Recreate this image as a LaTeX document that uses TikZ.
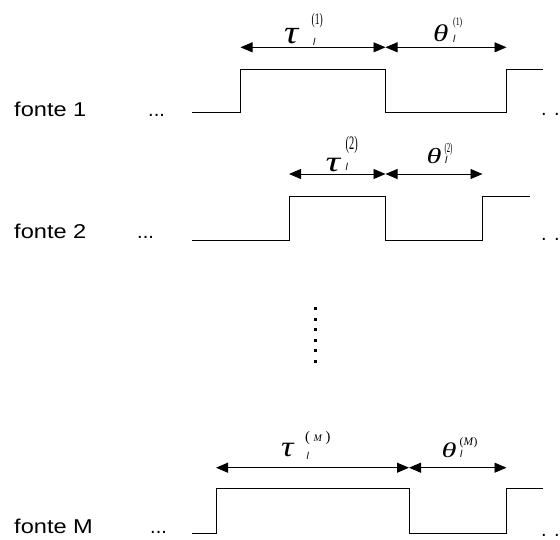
\documentclass[tikz,border=0pt]{standalone}
\usepackage{fontspec}
\setmainfont{Liberation Sans}
\newfontfamily\timesfont{Liberation Serif}
\usetikzlibrary{arrows.meta}
\newcommand{\hstretch}[2]{\scalebox{#1}[1]{#2}}

\begin{document}
\begin{tikzpicture}[x=1pt, y=-1pt,
  signal/.style={line width=1pt, line join=miter},
  period/.style={{Triangle[length=12pt,width=10pt]}-{Triangle[length=12pt,width=10pt]},
    line width=0.9pt},
  source/.style={anchor=base west, inner sep=0pt, font=\fontsize{20}{24}\selectfont},
  sym/.style={anchor=base west, inner sep=0pt, font=\fontsize{#1}{#1}\selectfont\timesfont\itshape},
  idx/.style={anchor=base west, inner sep=0pt, font=\fontsize{#1}{#1}\selectfont\timesfont}
]
\useasboundingbox (0,0) rectangle (560,539);

% fonte 1
\node[source] (src1) at (14,116.7) {\hstretch{1.18}{fonte 1}};
\node[source] (gap1) at (148,116.7) {...};
\draw[signal] (192,112.7) -- (240.5,112.7) -- (240.5,69) -- (385.5,69)
  -- (385.5,112.7) -- (506.5,112.7) -- (506.5,69) -- (542.5,69);
\node[source] (end1) at (541,115) {. .};
\coordinate (on1) at (240.5,47.3);
\coordinate (off1) at (385.5,47.3);
\coordinate (next1) at (506.5,47.3);
\draw[period] (on1) -- (off1);
\draw[period] (off1) -- (next1);
\node[sym=33] (tau1) at (284,43.3) {\hstretch{1.2}{τ}};
\node[idx=7, font=\itshape] (tau1sub) at (313,45) {l};
\node[idx=16] (tau1sup) at (311.5,24.4) {\hstretch{0.6}{(1)}};
\node[sym=24] (theta1) at (433,41.7) {\hstretch{1.3}{θ}};
\node[idx=6, font=\itshape] (theta1sub) at (453,42) {l};
\node[idx=11.5] (theta1sup) at (453,25.8) {\hstretch{0.67}{(1)}};

% fonte 2
\node[source] (src2) at (14,238) {\hstretch{1.18}{fonte 2}};
\node[source] (gap2) at (137,238) {...};
\draw[signal] (192,240) -- (289,240) -- (289,196) -- (385.5,196)
  -- (385.5,240) -- (482.5,240) -- (482.5,196) -- (530,196);
\node[source] (end2) at (541,240) {. .};
\coordinate (on2) at (289,174);
\coordinate (off2) at (385.5,174);
\coordinate (next2) at (482.5,174);
\draw[period] (on2) -- (off2);
\draw[period] (off2) -- (next2);
\node[sym=29] (tau2) at (325.5,171.7) {\hstretch{1.4}{τ}};
\node[idx=10, font=\itshape] (tau2sub) at (345.5,170) {l};
\node[idx=19] (tau2sup) at (345.5,149.8) {\hstretch{0.55}{(2)}};
\node[sym=21.7] (theta2) at (426.5,163.3) {\hstretch{1.4}{θ}};
\node[idx=5, font=\itshape] (theta2sub) at (445,163.3) {l};
\node[idx=13.5] (theta2sup) at (444.3,152.5) {\hstretch{0.5}{(2)}};

% vertical dots
\foreach \k in {0,...,5}
  \fill (314.2,{310+10.5*\k}) rectangle ++(3,-3);

% fonte M
\node[source] (srcM) at (14,533.3) {\hstretch{1.18}{fonte M}};
\node[source] (gapM) at (150,533.3) {...};
\draw[signal] (192,533.3) -- (216,533.3) -- (216,488.3) -- (409,488.3)
  -- (409,533.3) -- (506.5,533.3) -- (506.5,488.3) -- (542.5,488.3);
\node[source] (endM) at (541,536.5) {. .};
\coordinate (onM) at (216,467.7);
\coordinate (offM) at (409,467.7);
\coordinate (nextM) at (506.5,467.7);
\draw[period] (onM) -- (offM);
\draw[period] (offM) -- (nextM);
\node[sym=29] (tauM) at (281,456.3) {\hstretch{1.2}{τ}};
\node[idx=10, font=\itshape] (tauMsub) at (306.5,459.7) {l};
\node[idx=14.5] (tauMsup) at (305,441.4) {( {\fontsize{10}{10}\selectfont\itshape M} )};
\node[sym=21] (thetaM) at (441.5,457) {\hstretch{1.45}{θ}};
\node[idx=6, font=\itshape] (thetaMsub) at (460,457) {l};
\node[idx=11.5] (thetaMsup) at (459.5,445.9) {(\textit{M})};

\end{tikzpicture}
\end{document}
